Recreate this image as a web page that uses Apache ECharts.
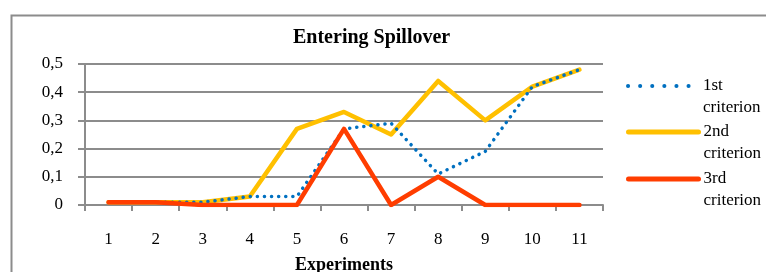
<!DOCTYPE html>
<html>
<head>
<meta charset="utf-8">
<script src="https://cdn.jsdelivr.net/npm/echarts@6/dist/echarts.min.js"></script>
<style>
  html, body { margin: 0; padding: 0; background: #fff; }
  #chart { width: 766px; height: 272px; }
</style>
</head>
<body>
<div id="chart"></div>
<script>
// experiments on the x axis
const experiments = ['1', '2', '3', '4', '5', '6', '7', '8', '9', '10', '11'];
const yTicks = [0, 0.1, 0.2, 0.3, 0.4, 0.5];

const criterion1 = [0.01, 0.01, 0.01, 0.03, 0.03, 0.27, 0.29, 0.11, 0.19, 0.42, 0.48];
const criterion2 = [0.01, 0.01, 0.01, 0.03, 0.27, 0.33, 0.25, 0.44, 0.30, 0.42, 0.48];
const criterion3 = [0.01, 0.01, 0, 0, 0, 0.27, 0, 0.10, 0, 0, 0];

const seriesNames = ['1st\ncriterion', '2nd\ncriterion', '3rd\ncriterion'];
const colors = ['#0070C0', '#FFC000', '#FF3D00'];

const serif = '"Liberation Serif", "DejaVu Serif", serif';
const gridColor = '#8c8c8c';

const chart = echarts.init(document.getElementById('chart'));

// one legend per series so each can sit where the reference has it
function legendFor(i, iconY) {
  const dotted = i === 0;
  return {
    data: [seriesNames[i]],
    left: 626,
    top: iconY - 33,
    itemWidth: 70,
    itemHeight: 6,
    padding: 0,
    selectedMode: false,
    itemStyle: { opacity: 0 },
    lineStyle: {
      color: colors[i],
      width: dotted ? 4 : 5,
      type: dotted ? [0.1, 12] : 'solid',
      cap: 'round'
    },
    // blank first line keeps "1st" level with the icon
    formatter: name => ' \n' + name,
    textStyle: { fontFamily: serif, fontSize: 17, color: '#000', lineHeight: 22 }
  };
}

const option = {
  animation: false,
  color: colors,
  title: {
    text: 'Entering Spillover',
    left: 293,
    top: 28,
    padding: 0,
    textStyle: { fontFamily: serif, fontSize: 20, fontWeight: 'bold', color: '#000' }
  },
  legend: [legendFor(0, 86), legendFor(1, 132), legendFor(2, 179)],
  grid: { left: 85, right: 163, top: 64, bottom: 67, outerBoundsMode: 'none', containLabel: false },
  xAxis: {
    type: 'category',
    data: experiments,
    boundaryGap: true,
    name: 'Experiments',
    nameLocation: 'middle',
    nameGap: 51,
    nameTextStyle: { fontFamily: serif, fontSize: 18, fontWeight: 'bold', color: '#000' },
    axisLine: { lineStyle: { color: gridColor, width: 2 } },
    axisTick: { show: true, length: 6, lineStyle: { color: gridColor, width: 2 } },
    axisLabel: { fontFamily: serif, fontSize: 17, color: '#000', margin: 26 }
  },
  yAxis: {
    type: 'value',
    min: 0,
    max: 0.5,
    interval: 0.1,
    axisLine: { show: true, lineStyle: { color: gridColor, width: 2 } },
    axisTick: { show: true, length: 7, lineStyle: { color: gridColor, width: 2 } },
    splitLine: { lineStyle: { color: gridColor, width: 2 } },
    axisLabel: {
      fontFamily: serif, fontSize: 17, color: '#000', margin: 22,
      formatter: v => {
        const t = yTicks.find(k => Math.abs(k - v) < 1e-9);
        return t === 0 ? '0' : String(t).replace('.', ',');
      }
    }
  },
  series: [
    {
      name: seriesNames[0], type: 'line', data: criterion1, symbol: 'none', z: 3,
      lineStyle: { color: colors[0], width: 3.5, type: [0.1, 7], cap: 'round' }
    },
    {
      name: seriesNames[1], type: 'line', data: criterion2, symbol: 'none', z: 2,
      lineStyle: { color: colors[1], width: 4.5, cap: 'round', join: 'round' }
    },
    {
      name: seriesNames[2], type: 'line', data: criterion3, symbol: 'none', z: 4,
      lineStyle: { color: colors[2], width: 4.5, cap: 'round', join: 'round' }
    }
  ],
  graphic: [
    {
      type: 'rect',
      left: 9, top: 13,
      shape: { width: 800, height: 300 },
      style: { fill: 'none', stroke: gridColor, lineWidth: 2 },
      silent: true
    }
  ]
};

chart.setOption(option);
</script>
</body>
</html>
